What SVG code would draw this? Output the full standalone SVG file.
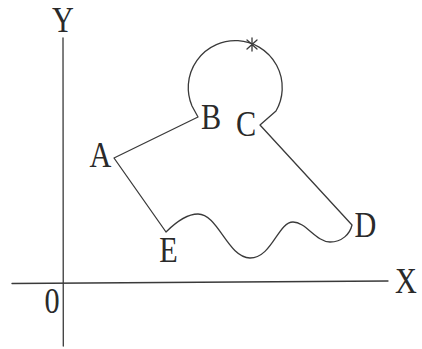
<svg xmlns="http://www.w3.org/2000/svg" width="422" height="349" viewBox="0 0 422 349">
<style>
.ln{fill:none;stroke:#3a3a3a;stroke-width:1.3;stroke-linecap:round;stroke-linejoin:round}
.lb{font-family:"Liberation Serif","Times New Roman",serif;font-size:36px;fill:#2a2a2a;text-anchor:middle}
</style>
<rect width="422" height="349" fill="#ffffff"/>
<g id="axes">
<line class="ln" x1="63" y1="38" x2="63.3" y2="346"/>
<line class="ln" x1="12" y1="283.5" x2="388" y2="281"/>
</g>
<g id="figure">
<path class="ln" d="M114,158 L198,117 L192,106 A47,47 0 1 1 276,111 L260,125 L352,225 C350,234 342,242 330,242 C316,242 306,222 293,222 C278,222 272,258 250,258 C228,258 218,214 198,214 C188,214 178,220 166,232 Z"/>
<path class="ln" d="M247,40 L257,49 M257,40 L247,49 M252,38 L252,51"/>
</g>
<g id="labels">
<text class="lb" transform="translate(63,32) scale(0.84,1.02)">Y</text>
<text class="lb" transform="translate(406,293) scale(0.84,1.02)">X</text>
<text class="lb" transform="translate(52,313) scale(0.84,1.02)">0</text>
<text class="lb" transform="translate(100.5,167) scale(0.84,1.02)">A</text>
<text class="lb" transform="translate(211,129) scale(0.84,1.02)">B</text>
<text class="lb" transform="translate(246,136) scale(0.84,1.02)">C</text>
<text class="lb" transform="translate(365.5,237) scale(0.84,1.02)">D</text>
<text class="lb" transform="translate(168.5,262) scale(0.84,1.02)">E</text>
</g>
</svg>
